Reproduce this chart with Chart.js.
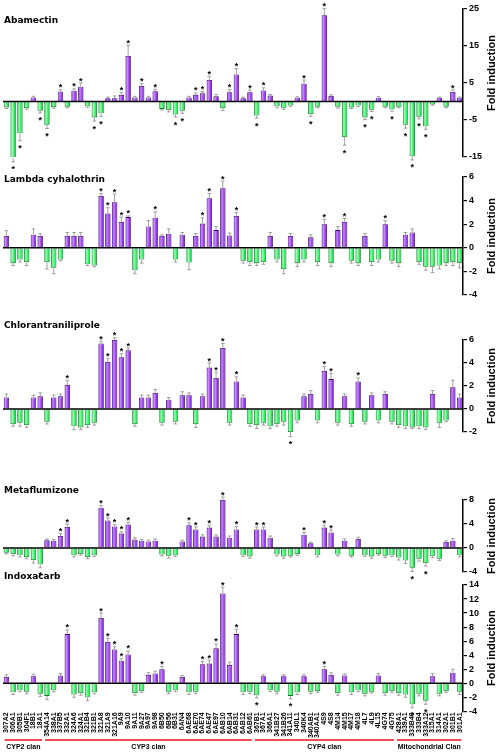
<!DOCTYPE html>
<html>
<head>
<meta charset="utf-8">
<script src="https://cdn.jsdelivr.net/npm/chart.js@4.4.1/dist/chart.umd.min.js"></script>
<style>
  body { margin: 0; width: 500px; height: 755px; background: #fff; position: relative; overflow: hidden; }
  .panel { position: absolute; left: 0; width: 500px; }
  .name { position: absolute; left: 4px; font: bold 9px "DejaVu Sans", sans-serif; color: #000; line-height: 12px; }
</style>
</head>
<body>
<div class="panel" style="top:-3px;height:172px"><canvas id="c1"></canvas></div>
<div class="panel" style="top:165px;height:142px"><canvas id="c2"></canvas></div>
<div class="panel" style="top:328px;height:116px"><canvas id="c3"></canvas></div>
<div class="panel" style="top:488px;height:96px"><canvas id="c4"></canvas></div>
<div class="panel" style="top:573px;height:182px"><canvas id="c5"></canvas></div>
<div class="name" style="top:14px">Abamectin</div>
<div class="name" style="top:173px">Lambda cyhalothrin</div>
<div class="name" style="top:319px">Chlorantraniliprole</div>
<div class="name" style="top:484px">Metaflumizone</div>
<div class="name" style="top:570px">Indoxacarb</div>
<script>
const genes = ['307A2','306A1','305B1','304F1','18B1','18A1','354A14','338A1','337B5','332A1','324A6','324A1','321B4','321B1','321A8','321A9','321A16','9A9','9A10','9A11','9A27','9A97','9A98','6B50','6B56','6B31','6AN4','6AE68','6AE70','6AE74','6AE47','6AE97','6AB10','6AB14','6AB31','6AB12','6AB61','367B1','367A1','366A1','341B27','341B26','341A11','340L1','340K4','340AB1','340AA1','4S9','4S8','4M14','4M15','4M17','4M18','4L7','4L9','4L15','4G74','4G75','428A1','339A1','333B40','333B4','333A12','315A1','314A1','302A1','301B1','301A1'];

const clanNames = ['CYP2 clan', 'CYP3 clan', 'CYP4 clan', 'Mitochondrial Clan'];
const clanSizes = [6, 31, 21, 10];

// fold induction per gene, one list per insecticide
const abamectin = [-1.6,-15.3,-8.6,-1.8,1.1,-2.5,-6.3,-1.5,2.7,-1.4,2.9,4.0,-1.3,-4.3,-3.2,0.9,0.9,1.8,12.3,1.1,4.2,1.1,2.8,-2.0,-2.3,-3.5,-2.5,1.1,1.8,2.2,5.8,1.4,-1.8,2.5,7.3,0.9,
  2.5,-3.8,3.0,1.6,-1.3,-1.7,-1.1,1.0,4.8,-3.4,-1.4,23.3,1.5,-1.4,-9.6,-1.6,-1.1,-4.3,-2.2,1.0,-1.4,-2.1,-1.4,-6.3,-14.8,-4.1,-6.7,-0.8,1.0,-1.4,2.6,1.0];
const lambda = [1.0,-1.3,-1.0,-1.2,1.1,1.0,-1.2,-1.7,-1.0,1.0,1.0,1.0,-1.4,-1.5,4.4,2.9,3.85,2.2,2.6,-1.9,-1.0,1.8,2.55,1.0,1.2,-1.0,1.1,-1.25,1.0,2.05,4.2,1.5,5.05,1.05,2.7,-1.1,
  -1.2,-1.3,-1.2,1.0,-1.0,-1.8,1.0,-1.3,-1.0,0.9,-1.2,2.0,-1.3,1.5,2.2,-1.1,-1.3,1.0,-1.2,-1.0,2.0,-1.1,-1.3,1.1,1.3,-1.2,-1.6,-1.6,-1.5,-1.3,-1.2,-1.3];
const chlorantraniliprole = [1.0,-1.3,-1.2,-1.4,1.0,1.1,-1.1,1.0,1.1,2.1,-1.5,-1.6,-1.4,-1.2,5.7,4.1,6.0,4.5,5.1,-1.3,1.0,1.0,1.4,-1.2,0.8,-1.1,1.2,1.2,-1.3,1.1,3.6,2.7,5.3,-1.2,2.4,1.0,
  -1.3,-1.4,-1.2,-1.5,-1.3,-1.1,-2.0,-1.0,1.1,1.3,-1.0,3.3,2.6,-1.2,1.1,-1.3,2.4,-1.1,1.2,-1.0,1.3,-1.1,-1.4,-1.5,-1.6,-1.5,-1.6,1.3,-1.2,-1.0,1.9,1.0];
const metaflumizone = [-0.8,-1.0,-1.2,-1.5,-2.0,-2.7,1.3,1.2,2.0,3.5,-1.2,-1.0,-1.5,-1.2,6.7,4.6,3.6,2.4,3.9,1.4,1.2,1.1,1.2,-1.1,-1.3,-1.2,1.1,3.8,3.1,1.9,3.4,1.9,8.0,1.7,3.1,-1.2,
  -1.4,3.1,3.1,1.7,-1.1,-1.4,-1.3,-1.0,2.2,0.8,-1.2,3.4,2.6,-1.1,1.2,-1.3,1.5,-1.2,-1.4,-1.0,-1.3,-1.2,-1.6,-2.1,-3.3,-1.8,-2.5,-1.3,-1.8,1.0,1.2,-1.2];
const indoxacarb = [0.9,-1.3,-1.0,-1.2,1.0,-1.5,-1.8,-1.0,1.1,7.0,-1.6,-1.4,-2.0,-1.3,9.3,5.9,4.8,3.2,4.1,-1.4,-1.1,1.2,1.4,2.0,-1.2,-1.0,0.9,-1.3,-1.2,2.7,2.8,5.0,12.8,2.6,7.0,-1.3,
  -1.2,-1.7,1.0,-1.0,-1.2,1.0,-1.8,-1.3,1.0,-1.2,-1.1,2.0,1.2,-1.4,1.1,-1.3,-1.0,-1.5,-1.2,1.1,-1.4,-1.1,-1.4,-1.6,-3.0,-1.5,-2.5,1.0,-1.5,-1.1,1.5,-1.2];

// error bar half-lengths (same units as the values)
const abamectinErr = [0.3,1.0,2.0,0.3,0.3,0.6,1.0,0.3,0.5,0.3,0.5,1.0,0.3,1.0,0.8,0.3,0.6,0.6,2.9,0.3,0.6,0.3,0.5,0.3,0.5,0.7,0.7,0.3,0.5,0.5,1.0,0.5,0.6,0.7,1.6,0.3,
  0.6,0.7,0.7,0.3,0.4,0.4,0.2,0.3,1.0,0.6,0.3,1.8,0.3,0.4,2.2,0.3,0.3,0.6,0.5,0.3,0.3,0.5,0.3,0.9,1.0,0.6,0.8,0.2,0.2,0.3,0.5,0.2];
const lambdaErr = [0.45,0.2,0.2,0.3,0.5,0.2,0.6,0.5,0.1,0.3,0.3,0.3,0.1,0.1,0.2,0.5,0.7,0.4,0.1,0.3,0.3,0.5,0.5,0.1,0.4,0.2,0.2,0.6,0.2,0.5,0.4,0.3,0.6,0.2,0.3,0.2,
  0.3,0.2,0.2,0.3,0.2,0.4,0.2,0.3,0.2,0.2,0.3,0.4,0.3,0.3,0.3,0.2,0.2,0.2,0.3,0.2,0.3,0.2,0.3,0.2,0.3,0.2,0.3,0.5,0.3,0.2,0.3,0.4];
const chlorantraniliproleErr = [0.3,0.2,0.3,0.2,0.2,0.3,0.2,0.2,0.2,0.4,0.3,0.2,0.2,0.2,0.2,0.3,0.2,0.3,0.2,0.2,0.2,0.2,0.3,0.2,0.2,0.2,0.3,0.2,0.3,0.2,0.4,0.5,0.4,0.2,0.4,0.2,
  0.2,0.3,0.2,0.2,0.2,0.3,0.4,0.2,0.2,0.3,0.2,0.4,0.5,0.2,0.2,0.2,0.3,0.2,0.2,0.2,0.2,0.2,0.2,0.2,0.1,0.2,0.2,0.3,0.4,0.1,0.6,0.3];
const metaflumizoneErr = [0.2,0.3,0.3,0.3,0.5,0.6,0.2,0.2,0.4,0.5,0.3,0.2,0.3,0.2,0.4,0.4,0.3,0.3,0.4,0.3,0.2,0.2,0.3,0.2,0.4,0.2,0.2,0.4,0.4,0.3,0.4,0.3,0.5,0.3,0.5,0.2,
  0.3,0.4,0.4,0.3,0.2,0.3,0.2,0.2,0.4,0.2,0.3,0.4,0.4,0.2,0.3,0.2,0.3,0.2,0.3,0.2,0.3,0.2,0.4,0.5,0.6,0.4,0.5,0.3,0.3,0.2,0.4,0.3];
const indoxacarbErr = [0.3,0.3,0.2,0.3,0.3,0.4,0.5,0.2,0.3,0.6,0.4,0.3,0.5,0.2,0.7,0.5,0.4,0.3,0.5,0.3,0.2,0.3,0.3,0.4,0.3,0.2,0.2,0.3,0.3,0.4,0.5,0.6,0.9,0.4,0.7,0.3,
  0.3,0.4,0.2,0.2,0.3,0.2,0.4,0.3,0.2,0.3,0.2,0.4,0.3,0.3,0.2,0.3,0.2,0.3,0.2,0.3,0.3,0.2,0.3,0.4,0.5,0.3,0.5,0.4,0.3,0.2,0.5,0.4];

// indexes of genes marked with an asterisk
const abamectinSig = [1,2,5,6,8,10,11,13,14,17,18,20,22,25,26,28,29,30,33,34,36,37,38,44,45,47,50,53,54,57,59,60,61,62,66];
const lambdaSig = [14,15,16,17,18,22,29,30,32,34,47,50,56];
const chlorantraniliproleSig = [9,14,15,16,17,18,30,31,32,34,42,47,48,52];
const metaflumizoneSig = [5,8,9,14,15,16,17,18,27,28,30,32,34,37,38,44,47,48,60,62];
const indoxacarbSig = [9,14,15,16,17,18,23,29,30,31,32,34,37,42,47,60,62];

const font = '"Liberation Sans", Arial, sans-serif';

function barFill(ctx) {
  const chart = ctx.chart;
  const up = ctx.raw >= 0;
  if (!chart.chartArea) return up ? '#9b3cf5' : '#2cf060';
  const x = chart.scales.x.getPixelForValue(ctx.dataIndex);
  const g = chart.ctx.createLinearGradient(x - 2.7, 0, x + 2.7, 0);
  if (up) {
    g.addColorStop(0, '#6d14c4'); g.addColorStop(0.35, '#c58bff');
    g.addColorStop(0.7, '#9a3cf5'); g.addColorStop(1, '#5e0fb0');
  } else {
    g.addColorStop(0, '#10b83c'); g.addColorStop(0.35, '#9dffb4');
    g.addColorStop(0.7, '#2cf060'); g.addColorStop(1, '#0d9e34');
  }
  return g;
}

const marks = {
  id: 'marks',
  afterDatasetsDraw(chart, args, opts) {
    const { ctx, chartArea } = chart;
    const y = chart.scales.y;
    const vals = chart.data.datasets[0].data;
    const meta = chart.getDatasetMeta(0);
    ctx.save();
    // error bars
    ctx.strokeStyle = '#8a8a8a';
    ctx.lineWidth = 0.8;
    const ends = vals.map((v, i) => {
      const bar = meta.data[i];
      const e = y.getPixelForValue(v >= 0 ? v + opts.err[i] : v - opts.err[i]);
      ctx.beginPath();
      ctx.moveTo(bar.x, bar.y);
      ctx.lineTo(bar.x, e);
      ctx.moveTo(bar.x - 1.8, e);
      ctx.lineTo(bar.x + 1.8, e);
      ctx.stroke();
      return e;
    });
    // zero line
    const y0 = y.getPixelForValue(0);
    ctx.strokeStyle = '#000';
    ctx.lineWidth = 1.6;
    ctx.beginPath();
    ctx.moveTo(chartArea.left, y0);
    ctx.lineTo(chartArea.right, y0);
    ctx.stroke();
    // asterisks
    ctx.fillStyle = '#000';
    ctx.font = 'bold 9px ' + font;
    ctx.textAlign = 'center';
    opts.sig.forEach(i => {
      const cy = vals[i] >= 0 ? ends[i] - 5 : ends[i] + 5;
      ctx.fillText('*', meta.data[i].x, cy + 5.5);
    });
    // axis title, reading upwards
    ctx.translate(492, (chartArea.top + chartArea.bottom) / 2 + opts.titleShift);
    ctx.rotate(-Math.PI / 2);
    ctx.font = 'bold 11px ' + font;
    ctx.textBaseline = 'middle';
    ctx.fillText('Fold induction', 0, 0);
    ctx.restore();

    if (!opts.clans) return;
    // clan brackets under the gene names
    const x = chart.scales.x;
    const ly = x.bottom + 1;
    ctx.save();
    ctx.strokeStyle = '#e8141c';
    ctx.lineWidth = 1.6;
    ctx.fillStyle = '#000';
    ctx.font = 'bold 7px ' + font;
    ctx.textAlign = 'center';
    let start = 0;
    const half = (x.getPixelForValue(1) - x.getPixelForValue(0)) / 2;
    clanSizes.forEach((n, k) => {
      const x1 = x.getPixelForValue(start) - half + 1.5;
      const x2 = x.getPixelForValue(start + n - 1) + half - 1.5;
      ctx.beginPath();
      ctx.moveTo(x1, ly);
      ctx.lineTo(x2, ly);
      ctx.stroke();
      ctx.fillText(clanNames[k], (x1 + x2) / 2, ly + 9);
      start += n;
    });
    ctx.restore();
  }
};

function makePanel(id, values, err, sig, min, max, step, last, titleShift) {
  return new Chart(document.getElementById(id), {
    type: 'bar',
    data: {
      labels: genes,
      datasets: [{
        data: values,
        backgroundColor: barFill,
        borderColor: c => c.raw >= 0 ? '#3b0066' : '#0a7a20',
        borderWidth: 0.8,
        barPercentage: 0.8,
        categoryPercentage: 1
      }]
    },
    options: {
      responsive: true,
      maintainAspectRatio: false,
      animation: false,
      layout: { padding: { top: 12, bottom: last ? 16 : 12, left: 3, right: 0 } },
      plugins: {
        legend: { display: false },
        tooltip: { enabled: false },
        marks: { sig: sig, err: err, clans: last, titleShift: titleShift }
      },
      scales: {
        x: {
          display: last,
          grid: { display: false, drawTicks: false },
          border: { display: false },
          ticks: { autoSkip: false, maxRotation: 90, minRotation: 90, padding: 1, color: '#000', font: { size: 7, weight: 'bold', family: font } }
        },
        y: {
          position: 'right',
          min: min,
          max: max,
          ticks: { stepSize: step, color: '#000', padding: 2, font: { size: 9, weight: 'bold', family: font } },
          grid: { drawOnChartArea: false, color: '#000', tickLength: 4, lineWidth: 1.2 },
          border: { color: '#000', width: 1.5 },
          afterFit(s) { s.width = 37; }
        }
      }
    },
    plugins: [marks]
  });
}

makePanel('c1', abamectin, abamectinErr, abamectinSig, -15, 25, 10, false, -10);
makePanel('c2', lambda, lambdaErr, lambdaSig, -4, 6, 2, false, 0);
makePanel('c3', chlorantraniliprole, chlorantraniliproleErr, chlorantraniliproleSig, -2, 6, 2, false, 0);
makePanel('c4', metaflumizone, metaflumizoneErr, metaflumizoneSig, -4, 8, 2, false, 0);
makePanel('c5', indoxacarb, indoxacarbErr, indoxacarbSig, -4, 14, 2, true, 0);
</script>
</body>
</html>
